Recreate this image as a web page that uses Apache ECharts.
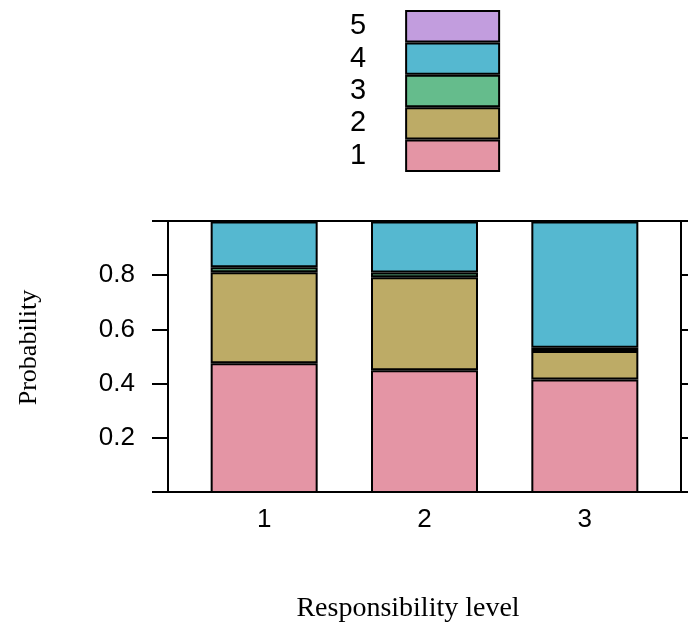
<!DOCTYPE html>
<html><head><meta charset="utf-8">
<script src="https://cdn.jsdelivr.net/npm/echarts@6/dist/echarts.min.js"></script>
<style>html,body{margin:0;padding:0;background:#fff}#c{width:688px;height:624px}</style>
</head><body><div id="c"></div>
<script>
var categories = ['1', '2', '3'];
var levelNames = ['1', '2', '3', '4', '5'];
var p1 = [0.477, 0.451, 0.417];
var p2 = [0.335, 0.342, 0.105];
var p3 = [0.018, 0.018, 0.012];
var p4 = [0.168, 0.187, 0.464];
var p5 = [0.002, 0.002, 0.002];
var yTickLabels = [0.2, 0.4, 0.6, 0.8];
var colors = ['#E495A5', '#BDAB66', '#65BC8C', '#55B8D0', '#C29DDE'];

var values = [p1, p2, p3, p4, p5];
var chart = echarts.init(document.getElementById('c'));
var series = levelNames.map(function (n, i) {
  return {
    name: n, type: 'bar', stack: 'all', barWidth: 107,
    xAxisIndex: 0, yAxisIndex: 0,
    itemStyle: { color: colors[i], borderColor: '#000', borderWidth: 2 },
    data: values[i]
  };
});
function axisLine() { return { show: true, onZero: false, lineStyle: { color: '#000', width: 2 } }; }
function axisTick() { return { show: true, length: 16, lineStyle: { color: '#000', width: 2 } }; }
chart.setOption({
  animation: false,
  textStyle: { fontFamily: 'Liberation Sans', color: '#000' },
  legend: {
    data: ['5', '4', '3', '2', '1'],
    orient: 'vertical', align: 'right', left: 350, top: 10, padding: 0,
    itemWidth: 93, itemHeight: 30.4, itemGap: 0, icon: 'rect',
    textStyle: { fontSize: 29, lineHeight: 30, color: '#000', fontFamily: 'Liberation Sans', padding: [0, 35, 0, 0] }
  },
  grid: [
    { left: 184, right: 23, top: 221, bottom: 131 },
    { left: 168, right: 7, top: 221, bottom: 131 }
  ],
  xAxis: [{
    gridIndex: 0, type: 'category', data: categories, position: 'bottom',
    axisLine: { show: false }, axisTick: { show: false },
    axisLabel: { fontSize: 26, color: '#000', margin: 14, fontFamily: 'Liberation Sans' }
  }, {
    gridIndex: 1, type: 'value', min: 0, max: 1, position: 'bottom',
    name: 'Responsibility level', nameLocation: 'middle', nameGap: 103,
    nameTextStyle: { fontFamily: 'Liberation Serif', fontSize: 28, color: '#000', verticalAlign: 'top', padding: [0, 33, 0, 0] },
    splitLine: { show: false }, axisLine: axisLine(),
    axisTick: { show: false }, axisLabel: { show: false }
  }, {
    gridIndex: 1, type: 'value', min: 0, max: 1, position: 'top',
    splitLine: { show: false }, axisLine: axisLine(),
    axisTick: { show: false }, axisLabel: { show: false }
  }],
  yAxis: [{
    gridIndex: 0, type: 'value', min: 0, max: 1, show: false
  }, {
    gridIndex: 1, type: 'value', min: 0, max: 1, interval: 0.2, position: 'left',
    name: 'Probability', nameLocation: 'middle', nameGap: 126,
    nameTextStyle: { fontFamily: 'Liberation Serif', fontSize: 26, color: '#000', padding: [0, 0, 0, 18] },
    splitLine: { show: false }, axisLine: axisLine(), axisTick: axisTick(),
    axisLabel: { customValues: yTickLabels, fontSize: 26, color: '#000', margin: 33, fontFamily: 'Liberation Sans' }
  }, {
    gridIndex: 1, type: 'value', min: 0, max: 1, interval: 0.2, position: 'right',
    splitLine: { show: false }, axisLine: axisLine(), axisTick: axisTick(),
    axisLabel: { show: false }
  }],
  series: series
});
</script></body></html>
